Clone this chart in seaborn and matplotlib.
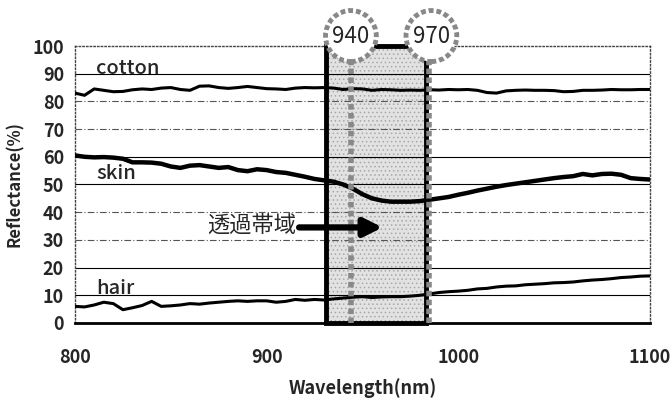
import numpy as np
import pandas as pd
import matplotlib
matplotlib.use("Agg")
import matplotlib.pyplot as plt
import seaborn as sns
from matplotlib.patches import Ellipse, Rectangle

wavelength = list(range(800, 1101, 5))
cotton = [83, 82.2, 84.5, 84, 83.5, 83.6, 84.2, 84.5, 84.3, 84.8, 85, 84.3, 84, 85.5, 85.6, 85, 84.7, 85,
          85.4, 85, 84.6, 84.5, 84.3, 84.8, 85, 84.9, 85, 84.8, 84.3, 84.6, 84.5, 84, 84.3, 84.2, 84, 84.1,
          84, 84.2, 84.1, 84.3, 84.2, 84.3, 84, 83.2, 83, 83.8, 84, 84.1, 84, 84, 83.9, 83.5, 83.6, 84, 84,
          84.1, 84.3, 84.2, 84.2, 84.3, 84.3]
skin = [60.5, 60, 59.8, 59.9, 59.7, 59.3, 58, 58, 57.9, 57.5, 56.5, 56, 56.8, 57, 56.5, 56, 56.3, 55.2,
        54.8, 55.5, 55.2, 54.5, 54.2, 53.5, 52.8, 52, 51.5, 51, 50, 48.5, 46.5, 45, 44.2, 43.8, 43.8, 43.8,
        44, 44.5, 45, 45.5, 46.3, 47, 47.8, 48.5, 49.2, 49.8, 50.3, 50.8, 51.3, 51.8, 52.3, 52.7, 53, 53.8,
        53.3, 53.8, 53.9, 53.5, 52.3, 52, 51.8]
hair = [6, 5.8, 6.5, 7.5, 7, 4.8, 5.5, 6.3, 7.8, 6, 6.2, 6.5, 7, 6.8, 7.2, 7.5, 7.8, 8, 7.8, 8, 8, 7.5,
        7.8, 8.5, 8.2, 8.5, 8.3, 8.7, 9, 9.3, 9.5, 9.2, 9.4, 9.5, 9.5, 9.7, 10, 10.5, 11, 11.3, 11.5, 11.8,
        12.3, 12.5, 13, 13.3, 13.4, 13.8, 14, 14.2, 14.5, 14.6, 14.8, 15.2, 15.5, 15.7, 16, 16.4, 16.6,
        16.9, 17]

y_ticks = [0, 10, 20, 30, 40, 50, 60, 70, 80, 90, 100]
x_ticks = [800, 900, 1000, 1100]
series_labels = ["cotton", "skin", "hair"]
band_labels = ["940", "970"]
band_text = "透過帯域"

sns.set_theme(style="white")
plt.rcParams['font.family'] = ['Noto Sans CJK JP', 'DejaVu Sans']
plt.rcParams['hatch.color'] = '#a0a0a0'
plt.rcParams['hatch.linewidth'] = 0.6

fig = plt.figure(figsize=(6.72, 3.99), dpi=100)
ax = fig.add_axes([0.1116, 0.1905, 0.8554, 0.6942])

df = pd.DataFrame({"wl": wavelength, "cotton": cotton, "skin": skin, "hair": hair})

# grid lines
solid = [10, 20, 50, 60, 90]
for v in y_ticks[1:-1]:
    if v in solid:
        ax.axhline(v, color="black", lw=0.8, zorder=1)
    else:
        ax.axhline(v, color="#555555", lw=0.8, ls=(0, (6, 2, 1, 2)), zorder=1)

# shaded band
ax.axvspan(931, 983, facecolor="#e2e2e2", hatch="....", edgecolor="#a8a8a8", zorder=0.5, lw=0)

sns.lineplot(data=df, x="wl", y="cotton", ax=ax, color="black", lw=2.2, zorder=3)
sns.lineplot(data=df, x="wl", y="skin", ax=ax, color="black", lw=3.2, zorder=3)
sns.lineplot(data=df, x="wl", y="hair", ax=ax, color="black", lw=2.2, zorder=3)

ax.set_xlim(800, 1100)
ax.set_ylim(0, 100)
ax.set_yticks(y_ticks)
ax.set_xticks(x_ticks)
ax.tick_params(axis="x", length=0, pad=18, labelsize=13)
ax.tick_params(axis="y", length=0, pad=8, labelsize=13)
for lab in ax.get_xticklabels() + ax.get_yticklabels():
    lab.set_fontweight("bold")
ax.set_xlabel("Wavelength(nm)", fontsize=13, fontweight="bold", labelpad=8)
ax.set_ylabel("Reflectance(%)", fontsize=12, fontweight="bold", labelpad=6)

for s in ax.spines.values():
    s.set_color("#444444")
    s.set_linestyle(":")
    s.set_linewidth(1.0)
ax.spines["bottom"].set_linestyle("-")
ax.spines["bottom"].set_linewidth(2)
ax.spines["bottom"].set_color("black")

# series labels
ax.text(811, 92, series_labels[0], fontsize=14.5, fontweight="medium", va="center", ha="left", zorder=4)
ax.text(811, 54, series_labels[1], fontsize=14.5, fontweight="medium", va="center", ha="left", zorder=4)
ax.text(811, 12.5, series_labels[2], fontsize=14.5, fontweight="medium", va="center", ha="left", zorder=4)

# thick box
ax.add_patch(Rectangle((931, 0), 52, 100, fill=False, ec="black", lw=3.5, zorder=5, clip_on=False))

# hatched vertical markers
for xv in (944, 985):
    ax.plot([xv, xv], [0, 96], color="#888888", lw=4, ls=(0, (1, 0.6)), zorder=6, clip_on=False)

# circles with labels
for xc, lab in zip((944, 986), band_labels):
    e = Ellipse((xc, 103.6), width=26.5, height=18.4, facecolor="white", edgecolor="#888888",
                lw=3.5, ls=(0, (1, 0.6)), zorder=7, clip_on=False)
    ax.add_patch(e)
    ax.text(xc, 103.4, lab, fontsize=16, ha="center", va="center", zorder=8, clip_on=False)

# arrow with text
ax.annotate("", xy=(962, 34.5), xytext=(915.5, 34.5),
            arrowprops=dict(arrowstyle="-|>,head_length=0.9,head_width=0.45", color="black", lw=4.5),
            zorder=9)
ax.text(915.5, 35, band_text, fontsize=16, ha="right", va="center", zorder=9)

fig.savefig("out.png", dpi=100)
